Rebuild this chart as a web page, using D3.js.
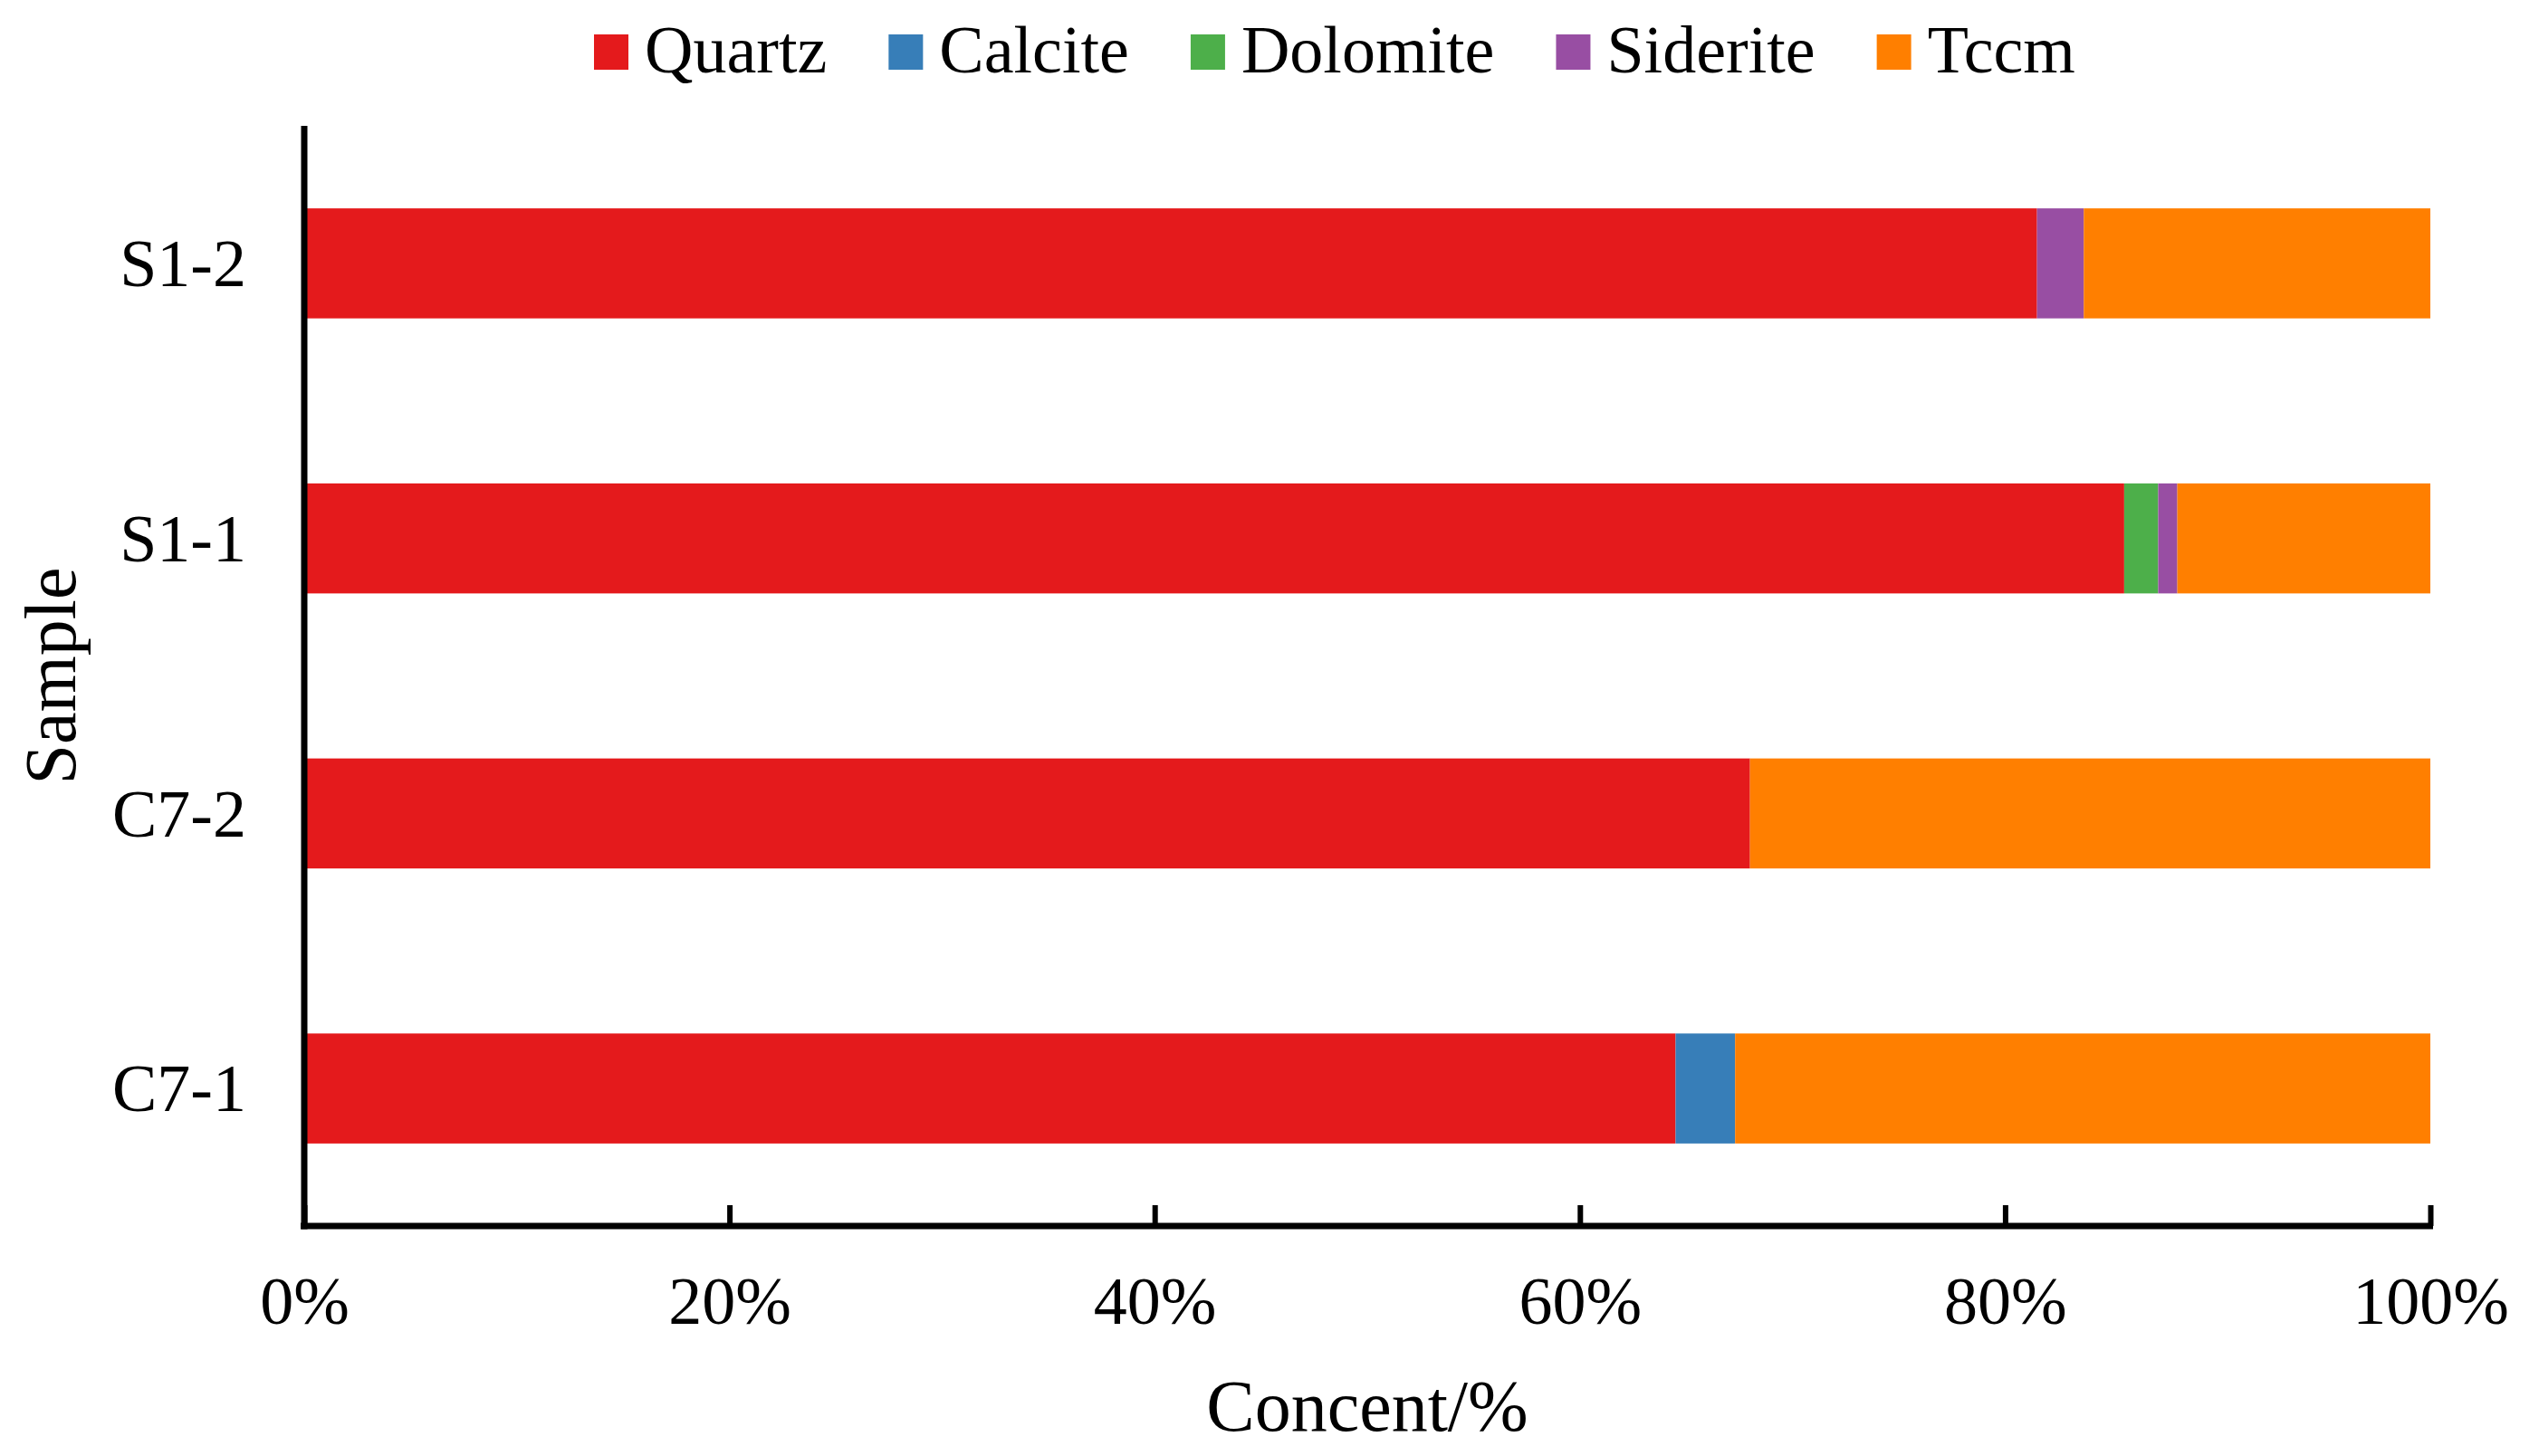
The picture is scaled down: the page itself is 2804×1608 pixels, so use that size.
<!DOCTYPE html>
<html><head><meta charset="utf-8">
<script src="https://cdn.jsdelivr.net/npm/d3@7"></script>
<style>html,body{margin:0;padding:0;background:#fff;}svg{display:block;}</style>
</head><body>
<svg id="chart" width="2804" height="1608"></svg>
<script>
const samples = ["S1-2", "S1-1", "C7-2", "C7-1"];
const minerals = ["Quartz", "Calcite", "Dolomite", "Siderite", "Tccm"];
const colors = ["#E41A1C", "#377EB8", "#4DAF4A", "#984EA3", "#FF7F00"];
const quartz   = [81.5, 85.6, 68.0, 64.5];
const calcite  = [0,    0,    0,    2.8];
const dolomite = [0,    1.6,  0,    0];
const siderite = [2.2,  0.9,  0,    0];
const tccm     = [16.3, 11.9, 32.0, 32.7];
const xTicks = [0, 20, 40, 60, 80, 100];
const xTitle = "Concent/%";
const yTitle = "Sample";

const seriesValues = [quartz, calcite, dolomite, siderite, tccm];
const rows = samples.map((s, i) => {
  const r = {sample: s};
  minerals.forEach((m, j) => r[m] = seriesValues[j][i]);
  return r;
});
const stacked = d3.stack().keys(minerals)(rows);

const svg = d3.select("#chart");
const font = "'Liberation Serif','Times New Roman',serif";
const pLeft = 336, pRight = 2684, pTop = 139, pBottom = 1354;

const x = d3.scaleLinear().domain([0, 100]).range([pLeft, pRight]);
const y = d3.scaleBand().domain(samples).range([pTop, pBottom]).paddingInner(0.6).paddingOuter(0.3);
const color = d3.scaleOrdinal().domain(minerals).range(colors);

// bars
svg.append("g").selectAll("g").data(stacked).join("g")
  .attr("fill", d => color(d.key))
  .selectAll("rect").data(d => d).join("rect")
  .attr("x", d => x(d[0]))
  .attr("width", d => Math.max(0, x(d[1]) - x(d[0])))
  .attr("y", d => y(d.data.sample))
  .attr("height", y.bandwidth());

// x axis
const xAxis = svg.append("g").attr("transform", `translate(0,${pBottom})`)
  .call(d3.axisBottom(x).tickValues(xTicks).tickFormat(d => d + "%").tickSizeInner(-23).tickSizeOuter(0));
xAxis.select(".domain").remove();
xAxis.selectAll(".tick line").attr("stroke", "#000").attr("stroke-width", 6);
xAxis.selectAll(".tick text").attr("y", 108).attr("dy", null)
  .attr("font-family", font).attr("font-size", 74).attr("fill", "#000");
svg.append("line").attr("x1", pLeft - 4).attr("x2", pRight + 3).attr("y1", pBottom).attr("y2", pBottom)
  .attr("stroke", "#000").attr("stroke-width", 7);

// y axis
const yAxis = svg.append("g").attr("transform", `translate(${pLeft},0)`)
  .call(d3.axisLeft(y).tickSize(0).tickPadding(64));
yAxis.select(".domain").remove();
yAxis.selectAll(".tick text").attr("font-family", font).attr("font-size", 74).attr("fill", "#000").attr("dy", "0.34em");
svg.append("line").attr("x1", pLeft).attr("x2", pLeft).attr("y1", pTop).attr("y2", pBottom + 3.5)
  .attr("stroke", "#000").attr("stroke-width", 7);

// titles
svg.append("text").attr("x", (pLeft + pRight) / 2).attr("y", 1580).attr("text-anchor", "middle")
  .attr("font-family", font).attr("font-size", 80).attr("fill", "#000").text(xTitle);
svg.append("text").attr("transform", `translate(83,${(pTop + pBottom) / 2}) rotate(-90)`).attr("text-anchor", "middle")
  .attr("font-family", font).attr("font-size", 80).attr("fill", "#000").text(yTitle);

// legend
const legend = svg.append("g");
let lx = 656;
minerals.forEach((m, i) => {
  legend.append("rect").attr("x", lx).attr("y", 38).attr("width", 38).attr("height", 39).attr("fill", color(m));
  const t = legend.append("text").attr("x", lx + 56).attr("y", 80)
    .attr("font-family", font).attr("font-size", 74).attr("fill", "#000").text(m);
  lx = lx + 56 + t.node().getComputedTextLength() + 68;
});
</script>
</body></html>
